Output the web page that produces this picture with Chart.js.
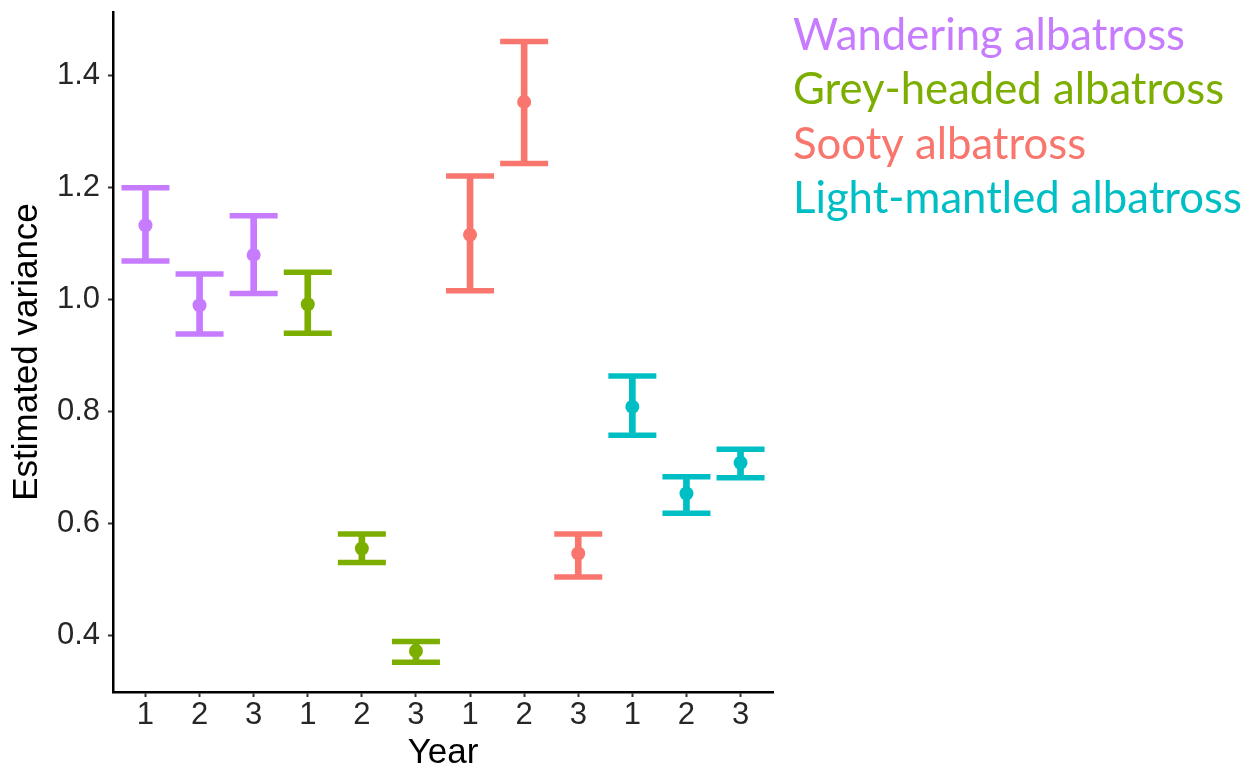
<!DOCTYPE html>
<html>
<head>
<meta charset="utf-8">
<script src="https://cdn.jsdelivr.net/npm/chart.js@4"></script>
<style>
  body { margin: 0; background: #fff; }
</style>
</head>
<body>
<canvas id="myChart" width="1255" height="771"></canvas>
<script>
// species and colours (ggplot default hues)
const species = ['Wandering albatross', 'Grey-headed albatross', 'Sooty albatross', 'Light-mantled albatross'];
const speciesColors = ['#C77CFF', '#7CAE00', '#F8766D', '#00BFC4'];

// one entry per error bar, left to right
const years = ['1', '2', '3', '1', '2', '3', '1', '2', '3', '1', '2', '3'];
const speciesOfBar = [0, 0, 0, 1, 1, 1, 2, 2, 2, 3, 3, 3];
const estimate = [1.132, 0.989, 1.079, 0.991, 0.555, 0.372, 1.115, 1.352, 0.546, 0.808, 0.653, 0.708];
const lower    = [1.068, 0.938, 1.010, 0.939, 0.530, 0.352, 1.015, 1.242, 0.504, 0.757, 0.618, 0.681];
const upper    = [1.199, 1.045, 1.149, 1.048, 0.581, 0.389, 1.220, 1.460, 0.581, 0.863, 0.683, 0.732];

const yTicks = [0.4, 0.6, 0.8, 1.0, 1.2, 1.4];

const datasets = [];
species.forEach((name, s) => {
    const idx = years.map((y, i) => i).filter(i => speciesOfBar[i] === s);
    const color = speciesColors[s];
    // vertical stem of the error bar
    datasets.push({
        type: 'bar',
        label: name,
        data: idx.map(i => ({ x: i + 1, y: [lower[i], upper[i]] })),
        backgroundColor: color,
        borderWidth: 0,
        barThickness: 6,
        maxBarThickness: 6,
        grouped: false,
        order: 3
    });
    // caps
    datasets.push({
        type: 'scatter',
        label: name + ' caps',
        data: idx.flatMap(i => [{ x: i + 1, y: lower[i] }, { x: i + 1, y: upper[i] }]),
        pointStyle: 'line',
        pointRadius: 24,
        pointBorderWidth: 5.5,
        pointBorderColor: color,
        order: 2
    });
    // estimate
    datasets.push({
        type: 'scatter',
        label: name + ' estimate',
        data: idx.map(i => ({ x: i + 1, y: estimate[i] })),
        pointStyle: 'circle',
        pointRadius: 7,
        pointBorderWidth: 0,
        pointBackgroundColor: color,
        order: 1
    });
});

// coloured species names on the right
const legendText = {
    id: 'legendText',
    afterDraw(chart) {
        const c = chart.ctx;
        c.save();
        c.font = '40px Lato';
        const w = c.measureText(species[3]).width;
        const size = 40 * 449 / w;
        c.font = size + 'px Lato';
        c.textAlign = 'left';
        c.textBaseline = 'alphabetic';
        species.forEach((name, s) => {
            c.fillStyle = speciesColors[s];
            c.fillText(name, chart.chartArea.right + 20, 50 + s * 54.4);
        });
        c.restore();
    }
};

const ctx = document.getElementById('myChart');
new Chart(ctx, {
    type: 'scatter',
    data: { datasets: datasets },
    plugins: [legendText],
    options: {
        responsive: false,
        animation: false,
        events: [],
        layout: { autoPadding: false, padding: { top: 12, right: 482, left: 0, bottom: 0 } },
        plugins: {
            legend: { display: false },
            tooltip: { enabled: false }
        },
        scales: {
            x: {
                type: 'linear',
                min: 0.4,
                max: 12.6,
                offset: false,
                afterBuildTicks: scale => { scale.ticks = years.map((y, i) => ({ value: i + 1 })); },
                afterFit: scale => {
                    scale.height = 79;
                    scale.paddingLeft = 0;
                    scale.paddingRight = 0;
                },
                grid: { display: true, offset: false, drawOnChartArea: false, drawTicks: true, tickLength: 5, tickColor: '#333', tickWidth: 2 },
                border: { display: true, color: '#000', width: 2.5 },
                ticks: {
                    autoSkip: false,
                    maxRotation: 0,
                    padding: 0,
                    color: '#262626',
                    font: { family: 'Liberation Sans, Arial', size: 31 },
                    callback: v => years[v - 1]
                },
                title: {
                    display: true,
                    text: 'Year',
                    color: '#000',
                    font: { family: 'Liberation Sans, Arial', size: 35, lineHeight: 1 },
                    padding: { top: 0, bottom: 0 }
                }
            },
            y: {
                type: 'linear',
                min: 0.2988,
                max: 1.5125,
                beginAtZero: false,
                afterBuildTicks: scale => { scale.ticks = yTicks.map(v => ({ value: v })); },
                afterFit: scale => {
                    scale.width = 113;
                    scale.paddingTop = 0;
                    scale.paddingBottom = 0;
                },
                grid: { display: true, drawOnChartArea: false, drawTicks: true, tickLength: 5, tickColor: '#333', tickWidth: 2 },
                border: { display: true, color: '#000', width: 2.5 },
                ticks: {
                    padding: 8,
                    color: '#262626',
                    font: { family: 'Liberation Sans, Arial', size: 31 },
                    callback: v => v.toFixed(1)
                },
                title: {
                    display: true,
                    text: 'Estimated variance',
                    color: '#000',
                    font: { family: 'Liberation Sans, Arial', size: 35, lineHeight: 1 },
                    padding: { top: 10, bottom: 0 }
                }
            }
        }
    }
});
</script>
</body>
</html>
